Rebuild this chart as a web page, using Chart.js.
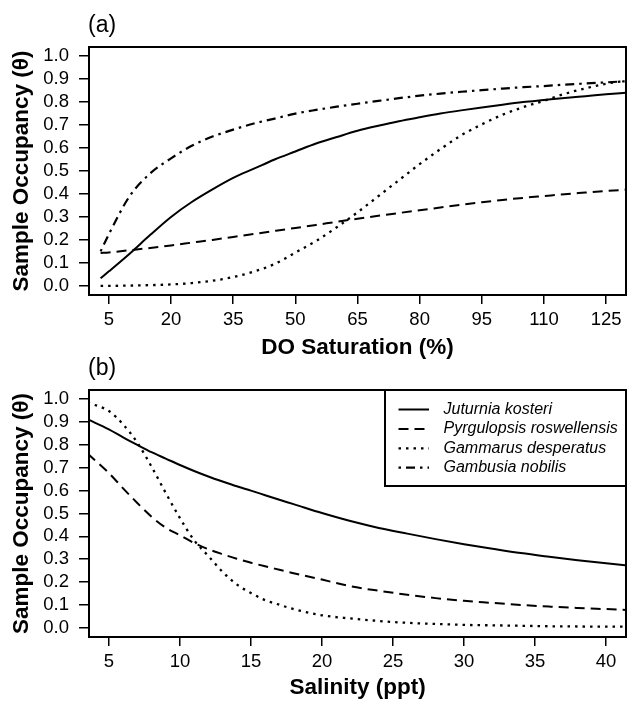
<!DOCTYPE html>
<html>
    <head>
        <meta charset="utf-8">
        <title>Sample occupancy</title>
        <script src="https://cdn.jsdelivr.net/npm/chart.js@4.4.1/dist/chart.umd.min.js"></script>
        <style>
            body { margin: 0; background: #fff; }
            #wrap { position: relative; width: 627px; height: 702px; }
            #wrap canvas { position: absolute; left: 0; }
            #chartA { top: 0; }
            #chartB { top: 355px; }
        </style>
    </head>
    <body>
        <div id="wrap">
            <canvas id="chartA" width="627" height="362"></canvas>
            <canvas id="chartB" width="627" height="347"></canvas>
        </div>

        <script>
            // --- data ---
            const species = ['Juturnia kosteri', 'Pyrgulopsis roswellensis', 'Gammarus desperatus', 'Gambusia nobilis'];

            // (a) DO saturation (%)
            const doSat = [3, 5, 10, 15, 20, 25, 30, 35, 40, 45, 50, 55, 60, 65, 70, 75, 80, 85, 90, 95, 100, 105, 110, 115, 120, 125, 130];
            const doJuturnia = [0.033, 0.063, 0.14, 0.222, 0.30, 0.365, 0.42, 0.47, 0.51, 0.55, 0.585, 0.62, 0.648, 0.675, 0.697, 0.717, 0.734, 0.75, 0.764, 0.777, 0.789, 0.80, 0.809, 0.818, 0.826, 0.834, 0.841];
            const doPyrgulopsis = [0.143, 0.145, 0.155, 0.165, 0.176, 0.188, 0.20, 0.213, 0.226, 0.239, 0.252, 0.265, 0.279, 0.292, 0.305, 0.317, 0.329, 0.341, 0.353, 0.364, 0.374, 0.383, 0.391, 0.399, 0.406, 0.413, 0.419];
            const doGammarus = [0.0, 0.0, 0.001, 0.003, 0.006, 0.012, 0.022, 0.038, 0.062, 0.095, 0.145, 0.195, 0.255, 0.32, 0.39, 0.46, 0.53, 0.595, 0.655, 0.703, 0.745, 0.778, 0.806, 0.836, 0.86, 0.88, 0.894];
            const doGambusia = [0.15, 0.225, 0.39, 0.49, 0.555, 0.61, 0.65, 0.68, 0.707, 0.728, 0.75, 0.766, 0.78, 0.793, 0.805, 0.817, 0.828, 0.837, 0.845, 0.852, 0.859, 0.865, 0.87, 0.876, 0.881, 0.886, 0.891];

            // (b) salinity (ppt)
            const salinity = [3.5, 5, 6, 7, 8, 9, 10, 11, 12, 13, 14, 15, 16, 17, 18, 20, 22, 24, 26, 28, 30, 32, 34, 36, 38, 40, 42];
            const salJuturnia = [0.912, 0.868, 0.833, 0.80, 0.768, 0.74, 0.712, 0.686, 0.662, 0.64, 0.619, 0.60, 0.58, 0.56, 0.541, 0.502, 0.467, 0.437, 0.412, 0.388, 0.366, 0.346, 0.327, 0.311, 0.296, 0.282, 0.27];
            const salPyrgulopsis = [0.762, 0.677, 0.61, 0.546, 0.486, 0.438, 0.405, 0.371, 0.344, 0.322, 0.302, 0.285, 0.269, 0.254, 0.239, 0.211, 0.182, 0.162, 0.145, 0.13, 0.118, 0.109, 0.10, 0.093, 0.087, 0.082, 0.077];
            const salGammarus = [0.985, 0.948, 0.89, 0.81, 0.705, 0.59, 0.48, 0.383, 0.314, 0.245, 0.19, 0.152, 0.121, 0.101, 0.082, 0.055, 0.041, 0.03, 0.022, 0.017, 0.013, 0.011, 0.009, 0.007, 0.006, 0.005, 0.005];

            const yTicks = [0, 0.1, 0.2, 0.3, 0.4, 0.5, 0.6, 0.7, 0.8, 0.9, 1.0];
            const doTicks = [5, 20, 35, 50, 65, 80, 95, 110, 125];
            const salTicks = [5, 10, 15, 20, 25, 30, 35, 40];

            //---

            const FONT = '"Liberation Sans", Arial, Helvetica, sans-serif';
            Chart.defaults.font.family = FONT;
            Chart.defaults.color = '#000';

            const styles = [
                { dash: [], width: 2 },
                { dash: [10, 6], width: 2 },
                { dash: [2.5, 5], width: 2.3 },
                { dash: [2.5, 5, 9, 5], width: 2.2 },
            ];

            const pts = (xs, ys) => xs.map((x, i) => ({ x: x, y: ys[i] }));

            function lineSet(idx, xs, ys) {
                return {
                    label: species[idx],
                    data: pts(xs, ys),
                    borderColor: '#000',
                    borderWidth: styles[idx].width,
                    borderDash: styles[idx].dash,
                    pointRadius: 0,
                    cubicInterpolationMode: 'monotone',
                    fill: false,
                };
            }

            // box round the plot region plus the panel letter
            const frame = {
                id: 'frame',
                afterDraw(chart, args, opts) {
                    const { ctx, chartArea: a } = chart;
                    ctx.save();
                    ctx.strokeStyle = '#000';
                    ctx.lineWidth = 2;
                    ctx.strokeRect(a.left, a.top, a.right - a.left, a.bottom - a.top);
                    ctx.fillStyle = '#000';
                    ctx.font = '23px ' + FONT;
                    ctx.textAlign = 'left';
                    ctx.textBaseline = 'middle';
                    ctx.fillText(opts.letter, a.left - 1, opts.letterY);
                    ctx.restore();
                }
            };

            const legendBox = {
                id: 'legendBox',
                afterDraw(chart, args, opts) {
                    if (!opts.show) return;
                    const { ctx, chartArea: a } = chart;
                    const w = 241, h = 96;
                    const left = a.right - w, top = a.top;
                    ctx.save();
                    ctx.fillStyle = '#fff';
                    ctx.fillRect(left, top, w, h);
                    ctx.strokeStyle = '#000';
                    ctx.lineWidth = 2;
                    ctx.strokeRect(left, top, w, h);
                    ctx.font = 'italic 16px ' + FONT;
                    ctx.textBaseline = 'middle';
                    ctx.fillStyle = '#000';
                    species.forEach((name, i) => {
                        const y = top + 19.5 + i * 19.4;
                        ctx.beginPath();
                        ctx.setLineDash(styles[i].dash);
                        ctx.lineWidth = styles[i].width;
                        ctx.moveTo(left + 13.5, y);
                        ctx.lineTo(left + 44, y);
                        ctx.stroke();
                        ctx.setLineDash([]);
                        ctx.fillText(name, left + 58.5, y);
                    });
                    ctx.restore();
                }
            };

            function makeChart(canvasId, datasets, xTitle, xMin, xMax, xTicks, padTop, xHeight, letter, letterY, showLegend) {
                return new Chart(canvasId, {
                    type: 'line',
                    data: { datasets: datasets },
                    plugins: [frame, legendBox],
                    options: {
                        responsive: false,
                        animation: false,
                        layout: { padding: { top: padTop, right: 1, left: 0, bottom: 0 } },
                        plugins: {
                            legend: { display: false },
                            tooltip: { enabled: false },
                            frame: { letter: letter, letterY: letterY },
                            legendBox: { show: showLegend },
                        },
                        scales: {
                            x: {
                                type: 'linear',
                                min: xMin,
                                max: xMax,
                                afterBuildTicks: s => { s.ticks = xTicks.map(v => ({ value: v })); },
                                afterFit: s => { s.height = xHeight; },
                                ticks: { font: { size: 18.5 }, padding: 5, maxRotation: 0, autoSkip: false, callback: v => String(v) },
                                grid: { drawOnChartArea: false, drawTicks: true, tickLength: 9, color: '#000', lineWidth: 1.5 },
                                border: { display: false },
                                title: { display: true, text: xTitle, font: { size: 22.5, weight: 'bold' }, padding: { top: 0, bottom: 1 } },
                            },
                            y: {
                                min: -0.04,
                                max: 1.04,
                                afterBuildTicks: s => { s.ticks = yTicks.map(v => ({ value: v })); },
                                afterFit: s => { s.width = 89; },
                                ticks: { font: { size: 18.5 }, padding: 10, autoSkip: false, callback: v => v.toFixed(1) },
                                grid: { drawOnChartArea: false, drawTicks: true, tickLength: 10, color: '#000', lineWidth: 1.5 },
                                border: { display: false },
                                title: { display: true, text: 'Sample Occupancy (θ)', font: { size: 22.5, weight: 'bold' }, padding: { top: 8, bottom: 0 } },
                            }
                        }
                    }
                });
            }

            makeChart('chartA', [
                lineSet(0, doSat, doJuturnia),
                lineSet(1, doSat, doPyrgulopsis),
                lineSet(2, doSat, doGammarus),
                lineSet(3, doSat, doGambusia),
            ], 'DO Saturation (%)', 0.2, 129.8, doTicks, 47, 67, '(a)', 26, false);

            makeChart('chartB', [
                lineSet(0, salinity, salJuturnia),
                lineSet(1, salinity, salPyrgulopsis),
                lineSet(2, salinity, salGammarus),
            ], 'Salinity (ppt)', 3.6, 41.4, salTicks, 35, 65, '(b)', 14, true);
        </script>
    </body>
</html>
